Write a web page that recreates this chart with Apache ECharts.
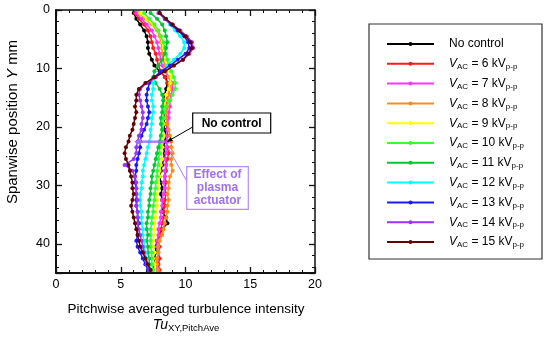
<!DOCTYPE html>
<html>
<head>
<meta charset="utf-8">
<script src="https://cdn.jsdelivr.net/npm/echarts@6/dist/echarts.min.js"></script>
<style>html,body{margin:0;padding:0;background:#fff}#c{width:550px;height:337px}</style>
</head>
<body>
<div id="c"></div>
<script>
// Spanwise positions (mm)
const spanY = [0.5,1.5,2.5,3.5,4.5,5.5,6.5,7.5,8.5,9.5,10.5,11.5,12.5,13.5,14.5,15.5,16.5,17.5,18.5,19.5,20.5,21.5,22.5,23.5,24.5,25.5,26.5,27.5,28.5,29.5,30.5,31.5,32.5,33.5,34.5,35.5,36.5,37.5,38.5,39.5,40.5,41.5,42.5,43.5,44.5];

// Pitchwise averaged turbulence intensity for each case
const noControl = [6.0,6.2,6.5,6.8,7.0,7.1,7.1,7.2,7.4,7.6,8.0,8.5,8.6,8.5,8.4,8.3,8.4,8.3,8.4,8.3,8.4,8.5,8.4,8.3,8.4,8.3,8.2,8.1,8.0,8.1,8.2,8.1,8.2,8.3,8.2,8.5,8.6,8.2,8.0,7.8,7.7,7.7,7.6,7.6,7.5];
const kv6  = [6.1,6.4,6.8,7.1,7.3,7.4,7.5,7.7,7.8,7.9,8.1,8.4,8.6,8.7,8.6,8.5,8.6,8.5,8.6,8.5,8.6,8.6,8.5,8.6,8.7,8.6,8.5,8.5,8.4,8.5,8.4,8.5,8.4,8.4,8.3,8.3,8.2,8.1,8.0,7.9,8.0,7.9,8.0,7.9,8.0];
const kv7  = [6.2,6.6,7.0,7.4,7.6,7.8,7.9,8.0,8.1,8.2,8.4,8.7,9.0,9.0,8.9,8.8,8.8,8.7,8.7,8.6,8.6,8.5,8.6,8.5,8.5,8.4,8.5,8.4,8.4,8.3,8.4,8.3,8.2,8.2,8.1,8.1,8.0,7.9,7.9,7.8,7.8,7.9,7.8,7.8,7.8];
const kv8  = [6.4,6.9,7.4,7.8,8.0,8.1,8.2,8.2,8.3,8.4,8.5,8.7,8.9,8.8,8.7,8.6,8.6,8.5,8.5,8.6,8.7,8.8,8.9,8.9,9.0,8.9,8.9,9.0,8.8,8.7,8.7,8.6,8.7,8.6,8.6,8.5,8.4,8.3,8.2,8.0,7.9,7.9,7.8,7.8,7.9];
const kv9  = [6.5,7.0,7.5,7.9,8.1,8.2,8.3,8.4,8.5,8.6,8.8,8.9,8.8,8.7,8.5,8.4,8.4,8.3,8.3,8.3,8.2,8.3,8.2,8.2,8.1,8.2,8.1,8.0,8.0,7.9,7.9,7.8,7.8,7.8,7.7,7.7,7.6,7.6,7.6,7.5,7.5,7.6,7.5,7.6,7.6];
const kv10 = [6.8,7.2,7.6,7.9,8.1,8.3,8.4,8.5,8.6,8.7,8.9,9.1,9.2,9.2,9.0,8.8,8.5,8.3,8.3,8.2,8.2,8.1,8.1,8.0,8.0,7.9,7.9,7.8,7.8,7.7,7.7,7.6,7.6,7.5,7.5,7.4,7.4,7.3,7.3,7.3,7.3,7.4,7.4,7.4,7.5];
const kv11 = [7.3,7.8,8.2,8.4,8.5,8.6,8.5,8.4,8.2,7.9,7.6,7.5,7.7,8.0,8.2,8.3,8.2,8.2,8.1,8.1,8.2,8.1,8.0,7.9,7.8,7.7,7.6,7.5,7.4,7.4,7.3,7.3,7.2,7.2,7.1,7.1,7.0,7.0,7.1,7.0,7.1,7.1,7.2,7.2,7.3];
const kv12 = [8.0,8.4,8.8,9.2,9.6,9.9,9.9,9.6,9.1,8.6,8.1,7.7,7.5,7.5,7.4,7.4,7.5,7.5,7.4,7.4,7.3,7.3,7.2,7.1,7.0,6.9,6.8,6.7,6.7,6.6,6.6,6.5,6.5,6.5,6.6,6.6,6.6,6.7,6.7,6.8,6.8,6.9,7.0,7.1,7.2];
const kv13 = [8.0,8.4,8.9,9.4,9.9,10.2,10.3,10.0,9.4,8.8,8.1,7.6,7.2,7.1,7.0,7.0,7.1,7.2,7.1,7.0,6.8,6.6,6.5,6.5,6.4,6.3,6.2,6.2,6.1,6.1,6.2,6.2,6.2,6.2,6.3,6.3,6.4,6.3,6.3,6.2,6.3,6.5,6.7,6.9,7.1];
const kv14 = [7.9,8.4,9.0,9.6,10.1,10.5,10.6,10.3,9.8,9.1,8.4,7.7,7.0,6.5,6.4,6.5,6.6,6.7,6.7,6.6,6.6,6.4,6.3,6.2,6.2,6.0,5.3,5.9,6.1,6.2,6.2,6.2,6.3,6.2,6.3,6.3,6.3,6.4,6.5,6.6,6.7,6.8,6.9,7.0,7.2];
const kv15 = [8.0,8.5,9.0,9.5,10.0,10.4,10.5,10.2,9.8,9.1,8.4,7.6,6.9,6.4,6.2,6.2,6.1,6.2,6.1,6.0,5.9,5.7,5.6,5.4,5.3,5.4,5.6,5.7,5.8,5.9,5.9,6.0,5.9,5.8,5.9,6.0,6.1,6.2,6.3,6.4,6.5,6.7,6.9,7.1,7.3];

const seriesNames = ['No control','6','7','8','9','10','11','12','13','14','15'];
const seriesValues = [noControl,kv6,kv7,kv8,kv9,kv10,kv11,kv12,kv13,kv14,kv15];
const seriesColors = ['#000000','#ff1a1a','#ff33ff','#ff8c1a','#ffff00','#33ff33','#00c832','#00ffff','#1a1aff','#9933ff','#660000'];

const xTicks = [0,5,10,15,20];
const yTicks = [0,10,20,30,40];

const FONT = '"Liberation Sans", Arial, sans-serif';
const chart = echarts.init(document.getElementById('c'), null, {renderer:'canvas'});

const series = seriesNames.map((n,k)=>({
  name:n, type:'line', xAxisIndex:0, yAxisIndex:0,
  data: spanY.map((y,i)=>[seriesValues[k][i], y]),
  symbol:'circle', symbolSize:4, showSymbol:true,
  lineStyle:{color:seriesColors[k], width:1.5},
  itemStyle:{color:seriesColors[k]},
  emphasis:{disabled:true}, animation:false, z:2+k
}));

function xAx(pos, labels){
  return {type:'value', position:pos, min:0, max:20, interval:5,
    axisLine:{show:true, onZero:false, lineStyle:{color:'#111', width: pos==='bottom'?2:1.5}},
    axisTick:{show:true, inside:true, length:6, lineStyle:{color:'#111', width:1.3}},
    minorTick:{show:true, splitNumber:5, length:3, lineStyle:{color:'#111', width:1}},
    splitLine:{show:false}, minorSplitLine:{show:false},
    axisLabel:{show:labels, color:'#000', fontSize:12.5, fontFamily:FONT, margin:5,
      formatter:v=> xTicks.indexOf(v)>=0 ? String(v) : ''}};
}
function yAx(pos, labels){
  return {type:'value', position:pos, inverse:true, min:0, max:45, interval:10,
    axisLine:{show:true, onZero:false, lineStyle:{color:'#111', width: pos==='left'?2:1.5}},
    axisTick:{show:true, inside:true, length:6, lineStyle:{color:'#111', width:1.3}},
    minorTick:{show:true, splitNumber:5, length:3, lineStyle:{color:'#111', width:1}},
    splitLine:{show:false}, minorSplitLine:{show:false},
    axisLabel:{show:labels, color:'#000', fontSize:12.5, fontFamily:FONT, margin:6,
      formatter:v=> yTicks.indexOf(v)>=0 ? String(v) : ''}};
}

const labelRich = {
  g:{width:10},
  i:{fontStyle:'italic', fontSize:12, fontFamily:FONT, color:'#000', lineHeight:14},
  t:{fontSize:12, fontFamily:FONT, color:'#000', lineHeight:14},
  s:{fontSize:8, fontFamily:FONT, color:'#000', verticalAlign:'bottom', lineHeight:14, padding:[5,0,0,0]}
};

const purple = '#a070f5';
function arrowHead(tx,ty,fx,fy,len,half,color){
  const dx=tx-fx, dy=ty-fy, L=Math.hypot(dx,dy), ux=dx/L, uy=dy/L;
  const bx=tx-ux*len, by=ty-uy*len, nx=-uy*half, ny=ux*half;
  return {type:'polygon', shape:{points:[[tx,ty],[bx+nx,by+ny],[bx-nx,by-ny]]}, style:{fill:color}, z:50};
}

chart.setOption({
  animation:false,
  grid:{left:56, right:235, top:10, bottom:64, containLabel:false},
  xAxis:[xAx('bottom',true), xAx('top',false)],
  yAxis:[yAx('left',true), yAx('right',false)],
  legend:{
    orient:'vertical', left:386, top:37, itemWidth:47, itemHeight:5, itemGap:5.8,
    selectedMode:false, padding:0,
    data:seriesNames,
    lineStyle:{width:2},
    textStyle:{fontSize:12, fontFamily:FONT, color:'#000', lineHeight:14, rich:labelRich},
    formatter:n=> n==='No control' ? '{g|}{t|No control}' : '{g|}{i|V}{s|AC}{t| = '+n+' kV}{s|p-p}'
  },
  graphic:[
    {type:'rect', shape:{x:369, y:24, width:173, height:235}, style:{fill:'none', stroke:'#333', lineWidth:1.2}, z:0},
    // axis titles
    {type:'text', x:186, y:309, style:{text:'Pitchwise averaged turbulence intensity', font:'13.5px '+FONT, fill:'#000', textAlign:'center', textVerticalAlign:'middle'}},
    {type:'text', x:186, y:325, style:{text:'{i|Tu}{s|XY,PitchAve}', textAlign:'center', textVerticalAlign:'middle',
      rich:{i:{fontStyle:'italic', fontSize:14, fontFamily:FONT, fill:'#000', lineHeight:16},
            s:{fontSize:9.5, fontFamily:FONT, fill:'#000', verticalAlign:'bottom', lineHeight:16, padding:[6,0,0,0]}}}},
    {type:'text', x:13, y:122, rotation:Math.PI/2, style:{text:'{t|Spanwise position }{i|Y}{t| mm}', textAlign:'center', textVerticalAlign:'middle',
      rich:{t:{fontSize:15, fontFamily:FONT, fill:'#000'}, i:{fontSize:15, fontStyle:'italic', fontFamily:FONT, fill:'#000'}}}},
    // No control annotation
    {type:'line', shape:{x1:192.7, y1:127, x2:167, y2:141.7}, style:{stroke:'#000', lineWidth:1}, z:50},
    arrowHead(166.5,142,192.7,127,6,2.2,'#000'),
    {type:'rect', shape:{x:192.7, y:113, width:78, height:20}, style:{fill:'#fff', stroke:'#000', lineWidth:1.2}, z:50},
    {type:'text', x:231.7, y:123.5, style:{text:'No control', font:'bold 12px '+FONT, fill:'#000', textAlign:'center', textVerticalAlign:'middle'}, z:51},
    // Effect of plasma actuator
    {type:'line', shape:{x1:165, y1:141.7, x2:140, y2:141.7}, style:{stroke:purple, lineWidth:2.6, opacity:0.85}, z:50},
    arrowHead(134,141.7,165,141.7,7,3.5,purple),
    {type:'line', shape:{x1:165.7, y1:143.5, x2:186.7, y2:181}, style:{stroke:purple, lineWidth:0.9}, z:50},
    {type:'rect', shape:{x:186.7, y:166.7, width:61.6, height:42.6}, style:{fill:'#fff', stroke:'#b48cff', lineWidth:1.2}, z:50},
    {type:'text', x:217.5, y:188, style:{text:'Effect of\nplasma\nactuator', font:'bold 12px '+FONT, fill:'#a070f0', textAlign:'center', textVerticalAlign:'middle', lineHeight:13}, z:51}
  ],
  series:series
});
</script>
</body>
</html>
